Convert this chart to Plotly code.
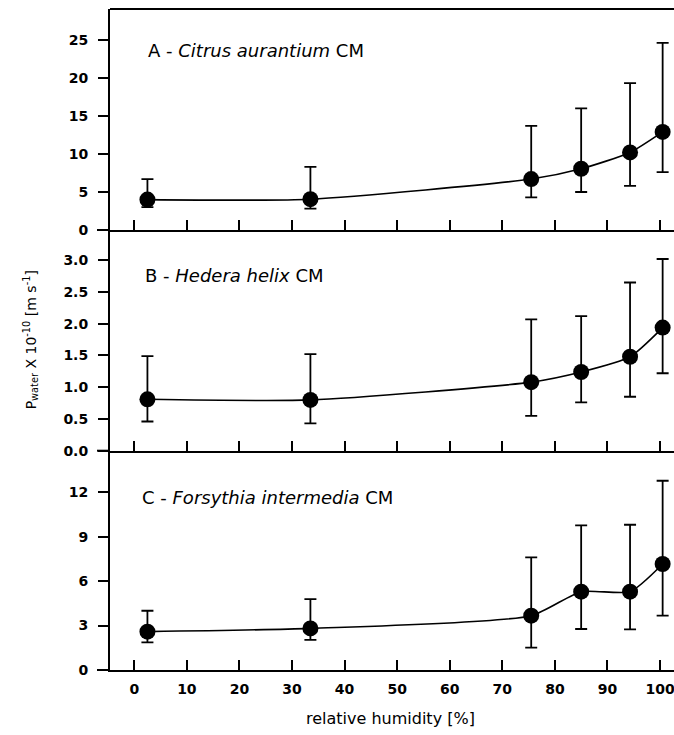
import plotly.graph_objects as go

# ---- data ----
rh = [2.5, 33.5, 75.5, 85, 94.3, 100.5]

A_y  = [4.0, 4.05, 6.7, 8.05, 10.2, 12.9]
A_hi = [6.7, 8.3, 13.7, 16.0, 19.3, 24.6]
A_lo = [3.0, 2.8, 4.3, 5.0, 5.8, 7.6]

B_y  = [0.81, 0.80, 1.08, 1.24, 1.48, 1.94]
B_hi = [1.49, 1.52, 2.07, 2.12, 2.65, 3.02]
B_lo = [0.46, 0.43, 0.55, 0.76, 0.85, 1.22]

C_y  = [2.59, 2.81, 3.67, 5.29, 5.29, 7.16]
C_hi = [4.0, 4.79, 7.6, 9.77, 9.81, 12.78]
C_lo = [1.87, 2.03, 1.51, 2.77, 2.75, 3.67]

x_ticks = [0, 10, 20, 30, 40, 50, 60, 70, 80, 90, 100]
A_ticks = [0, 5, 10, 15, 20, 25]
B_ticks = [0.0, 0.5, 1.0, 1.5, 2.0, 2.5, 3.0]
C_ticks = [0, 3, 6, 9, 12]

panel_labels = [
    ("A - <i>Citrus aurantium</i> CM", 146, 51),
    ("B - <i>Hedera helix</i> CM", 143, 275),
    ("C - <i>Forsythia intermedia</i> CM", 140, 497),
]

FONT = "DejaVu Sans"
W, H = 674, 735
PX0, PX1 = 110, 674          # plot area, page pixels
PY0, PY1 = 9, 670
L, R = PX0, W - PX1
T, B = PY0, H - PY1
plot_w = PX1 - PX0
plot_h = PY1 - PY0


def px(xpage):
    return (xpage - PX0) / plot_w


def py(ypage):
    return (PY1 - ypage) / plot_h


def trace(y, hi, lo, xa, ya):
    return go.Scatter(
        x=rh, y=y, xaxis=xa, yaxis=ya, mode="lines+markers",
        line=dict(color="black", width=1.6, shape="spline", smoothing=0.6),
        marker=dict(color="black", size=16, symbol="circle"),
        error_y=dict(type="data", symmetric=False,
                     array=[h - v for h, v in zip(hi, y)],
                     arrayminus=[v - l for v, l in zip(y, lo)],
                     color="black", thickness=1.8, width=6),
        showlegend=False, cliponaxis=False,
    )


fig = go.Figure()
fig.add_trace(trace(C_y, C_hi, C_lo, "x", "y"))
fig.add_trace(trace(B_y, B_hi, B_lo, "x2", "y2"))
fig.add_trace(trace(A_y, A_hi, A_lo, "x3", "y3"))

dC = [0, py(450.7)]
dB = [dC[1], py(230)]
dA = [dB[1], 1]

xr = [-4.62, 102.66]
tickfont = dict(family=FONT, size=14, color="black", weight="bold")

common_x = dict(range=xr, tickvals=x_ticks, ticks="inside", ticklen=10,
                tickwidth=1.6, tickcolor="black", showline=True,
                linecolor="black", linewidth=2, showgrid=False,
                zeroline=False, fixedrange=True)
common_y = dict(ticks="outside", ticklen=10, tickwidth=1.6, tickcolor="black",
                showline=True, linecolor="black", linewidth=2, showgrid=False,
                zeroline=False, tickfont=tickfont, ticklabelstandoff=7,
                fixedrange=True)

fig.update_layout(
    width=W, height=H,
    margin=dict(l=L, r=R, t=T, b=B),
    paper_bgcolor="white", plot_bgcolor="white",
    xaxis=dict(**common_x, anchor="y", showticklabels=True, tickfont=tickfont,
               ticklabeloverflow="allow", ticklabelstandoff=5),
    xaxis2=dict(**common_x, anchor="y2", showticklabels=False, matches="x"),
    xaxis3=dict(**common_x, anchor="y3", showticklabels=False, matches="x"),
    yaxis=dict(**common_y, domain=dC, anchor="x", range=[0, 14.81],
               tickvals=C_ticks),
    yaxis2=dict(**common_y, domain=dB, anchor="x2", range=[0, 3.477],
                tickvals=B_ticks, tickformat=".1f"),
    yaxis3=dict(**common_y, domain=dA, anchor="x3", range=[0, 29.06],
                tickvals=A_ticks),
)

# top frame line and small left overhang of the x-axis lines
fig.add_shape(type="line", xref="paper", yref="paper", x0=0, x1=1, y0=1, y1=1,
              line=dict(color="black", width=2))
for yy in [dC[0], dB[0], dA[0]]:
    fig.add_shape(type="line", xref="paper", yref="paper", x0=px(97), x1=0,
                  y0=yy, y1=yy, line=dict(color="black", width=2))

for txt, xp, yp in panel_labels:
    fig.add_annotation(text=txt, xref="paper", yref="paper", x=px(xp), y=py(yp),
                       xanchor="left", yanchor="middle", showarrow=False,
                       font=dict(family=FONT, size=18, color="black"))

fig.add_annotation(
    text="P<sub>water</sub> X 10<sup>-10</sup> [m s<sup>-1</sup>]",
    xref="paper", yref="paper", x=px(31), y=(dB[0] + dB[1]) / 2,
    xanchor="center", yanchor="middle", textangle=-90, showarrow=False,
    font=dict(family=FONT, size=14, color="black"))

fig.add_annotation(
    text="relative humidity [%]", xref="paper", yref="paper",
    x=px(390), y=py(718),
    xanchor="center", yanchor="middle", showarrow=False,
    font=dict(family=FONT, size=16, color="black"))

fig.write_html(
    "out.html",
    config={"displayModeBar": False},
    post_script="document.body.style.margin='0';"
                "document.body.style.overflow='hidden';",
)
